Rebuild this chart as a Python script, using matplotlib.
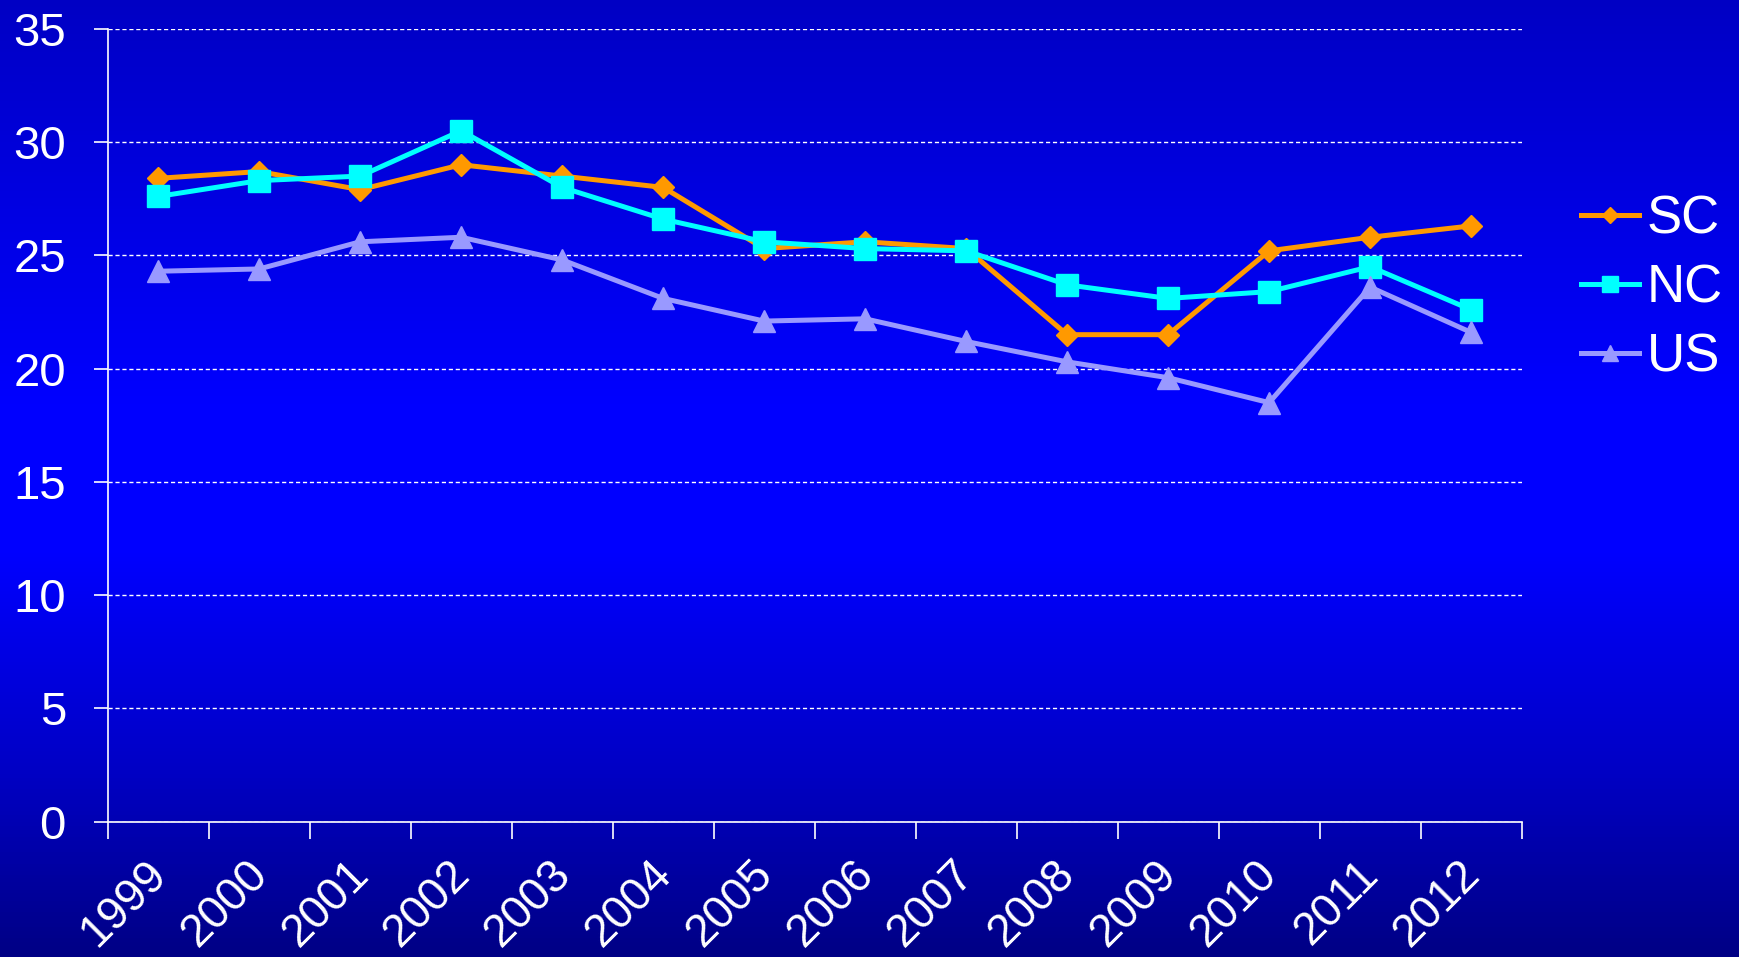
import numpy as np
import matplotlib
matplotlib.use("Agg")
import matplotlib.pyplot as plt
from matplotlib.colors import LinearSegmentedColormap
from matplotlib.transforms import ScaledTranslation

years = ["1999", "2000", "2001", "2002", "2003", "2004", "2005",
         "2006", "2007", "2008", "2009", "2010", "2011", "2012"]
sc = [28.4, 28.7, 27.9, 29.0, 28.5, 28.0, 25.3, 25.6, 25.3, 21.5, 21.5, 25.2, 25.8, 26.3]
nc = [27.6, 28.3, 28.5, 30.5, 28.0, 26.6, 25.6, 25.3, 25.2, 23.7, 23.1, 23.4, 24.5, 22.6]
us = [24.3, 24.4, 25.6, 25.8, 24.8, 23.1, 22.1, 22.2, 21.2, 20.3, 19.6, 18.5, 23.6, 21.6]
series_names = ["SC", "NC", "US"]
yticks = [0, 5, 10, 15, 20, 25, 30, 35]

plt.rcParams['font.family'] = ['Liberation Sans', 'DejaVu Sans']

fig = plt.figure(figsize=(17.39, 9.57), dpi=100)

# background gradient
bg = fig.add_axes([0, 0, 1, 1], zorder=-10)
cmap = LinearSegmentedColormap.from_list(
    "bg", [(0.0, (0, 0, 0.77)), (0.42, (0, 0, 1.0)), (0.58, (0, 0, 1.0)),
           (0.80, (0, 0, 0.78)), (1.0, (0, 0, 0.52))])
grad = np.linspace(0, 1, 256).reshape(-1, 1)
bg.imshow(grad, aspect='auto', cmap=cmap, extent=[0, 1, 1, 0])
bg.set_axis_off()

ax = fig.add_axes([0.0619, 0.1413, 0.875 - 0.0619, 0.9699 - 0.1413])
ax.patch.set_alpha(0)

x = np.arange(len(years))
styles = [
    dict(color="#FF9900", marker="D", ms=11.5, lw=3.6),
    dict(color="#00FFFF", marker="s", ms=15.5, lw=3.6),
    dict(color="#9999FF", marker="^", ms=16, lw=3.6),
]
handles = []
for vals, name, st in zip([sc, nc, us], series_names, styles):
    h, = ax.plot(x, vals, color=st["color"], marker=st["marker"],
                 markersize=st["ms"], linewidth=st["lw"],
                 markeredgecolor=st["color"], label=name, zorder=3)
    handles.append(h)

ax.set_xlim(-0.5, len(years) - 0.5)
ax.set_ylim(0, 35)
ax.set_yticks(yticks)
ax.set_yticklabels([str(v) for v in yticks])
ax.set_xticks(x)
ax.set_xticklabels(years, rotation=45, ha='right', rotation_mode='anchor')
ax.set_xticks(np.arange(-0.5, len(years), 1.0), minor=True)
ax.tick_params(axis='x', which='major', length=0, pad=22, labelsize=33, colors='white')
ax.tick_params(axis='x', which='minor', length=12, width=1.2, color='white')
ax.tick_params(axis='y', length=10, width=1.2, color='white', labelsize=34,
               labelcolor='white', pad=20)
offset = ScaledTranslation(-10 / 72, 0, fig.dpi_scale_trans)
for lab in ax.get_xticklabels():
    lab.set_transform(lab.get_transform() + offset)

for s in ['top', 'right']:
    ax.spines[s].set_visible(False)
for s in ['left', 'bottom']:
    ax.spines[s].set_color('white')
    ax.spines[s].set_linewidth(1.2)

ax.yaxis.grid(True, color='white', linestyle=(0, (3, 2)), linewidth=1.0)
ax.set_axisbelow(True)

leg = fig.legend(handles=handles, labels=series_names, loc='center left',
                 bbox_to_anchor=(0.8818, 0.699), frameon=False, fontsize=38,
                 handlelength=1.1, handletextpad=0.15, labelspacing=0.36,
                 markerscale=0.75)
for t in leg.get_texts():
    t.set_color('white')

fig.savefig("out.png", dpi=100)
